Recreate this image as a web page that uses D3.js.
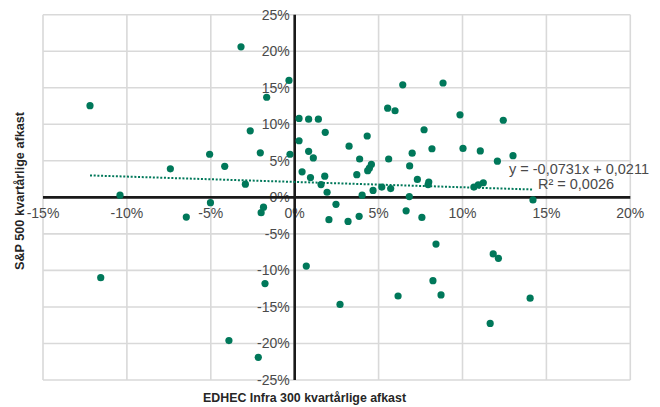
<!DOCTYPE html>
<html>
<head>
<meta charset="utf-8">
<script src="https://cdn.jsdelivr.net/npm/d3@7/dist/d3.min.js"></script>
<style>
  html, body { margin: 0; padding: 0; background: #fff; }
  svg { display: block; }
</style>
</head>
<body>
<div id="chart"></div>
<script>
// Quarterly returns (%): EDHEC Infra 300 (x) vs S&P 500 (y)
const infraReturns = [
  -12.2, -3.2, -0.34, -1.67, -2.65, 0.26, 0.83, 1.41, 1.82, 0.26,
  0.83, 1.11, -0.28, -2.05, -5.07, -4.17, -7.41, 0.44, 0.94, 1.79,
  1.57, -2.94, 1.93, -10.41, -5.02, -1.86, -2.0, -6.46, 2.04, -11.56,
  0.69, -1.77, -3.92, -2.17, 6.44, 8.84, 5.54, 5.98, 9.85, 12.43,
  7.71, 4.32, 3.24, 10.03, 8.18, 11.06, 7.0, 12.08, 13.01, 3.87,
  5.6, 6.85, 4.57, 4.45, 4.35, 3.7, 7.31, 7.99, 7.95, 11.24,
  10.94, 10.68, 5.19, 5.72, 4.67, 4.02, 6.83, 14.2, 2.46, 3.18,
  3.84, 6.64, 7.58, 8.42, 11.83, 12.14, 8.24, 6.16, 8.72, 14.03,
  2.7, 11.65
];
const spReturns = [
  12.55, 20.6, 16.0, 13.7, 9.1, 10.8, 10.7, 10.7, 8.9, 7.75,
  6.3, 5.4, 5.9, 6.1, 5.9, 4.25, 3.9, 3.5, 2.7, 2.9,
  1.75, 1.8, 0.7, 0.3, -0.73, -1.35, -2.1, -2.7, -3.05, -11.0,
  -9.4, -11.8, -19.6, -21.9, 15.4, 15.65, 12.2, 11.85, 11.3, 10.55,
  9.25, 8.4, 7.0, 6.7, 6.65, 6.35, 6.05, 4.95, 5.7, 5.25,
  5.25, 4.3, 4.5, 4.0, 3.65, 3.1, 2.45, 2.1, 1.75, 2.0,
  1.7, 1.4, 1.4, 1.2, 0.95, 0.3, 0.1, -0.35, -0.95, -3.3,
  -2.6, -1.85, -2.75, -6.4, -7.75, -8.35, -11.4, -13.5, -13.35, -13.8,
  -14.65, -17.25
];

// Linear trend (as printed on the chart)
const trendSlope = -0.0731;
const trendIntercept = 0.0211;
const trendLabel = "y = -0,0731x + 0,0211";
const r2Label = "R² = 0,0026";

const xTicks = [-15, -10, -5, 0, 5, 10, 15, 20];
const yTicks = [-25, -20, -15, -10, -5, 0, 5, 10, 15, 20, 25];
const xTitle = "EDHEC Infra 300 kvartårlige afkast";
const yTitle = "S&P 500 kvartårlige afkast";

const width = 660, height = 407;
const plot = { left: 43, right: 630.3, top: 14.7, bottom: 380 };
const green = "#00785a";
const grid = "#d9d9d9";
const textCol = "#4a4a4a";

const svg = d3.select("#chart").append("svg")
  .attr("width", width).attr("height", height);

const x = d3.scaleLinear().domain([-15, 20]).range([plot.left, plot.right]);
const y = d3.scaleLinear().domain([-25, 25]).range([plot.bottom, plot.top]);

// Gridlines (also form the outer frame)
svg.append("g").selectAll("line").data(xTicks).join("line")
  .attr("x1", d => x(d)).attr("x2", d => x(d))
  .attr("y1", plot.top).attr("y2", plot.bottom)
  .attr("stroke", grid).attr("stroke-width", 1.6);
svg.append("g").selectAll("line").data(yTicks).join("line")
  .attr("x1", plot.left).attr("x2", plot.right)
  .attr("y1", d => y(d)).attr("y2", d => y(d))
  .attr("stroke", grid).attr("stroke-width", 1.6);

const fmt = d => d + "%";

// Y tick labels sit just left of the vertical zero axis
svg.append("g").selectAll("text").data(yTicks).join("text")
  .attr("x", x(0) - 5).attr("y", d => y(d)).attr("dy", "0.35em")
  .attr("text-anchor", "end")
  .attr("font-family", "Liberation Sans, Arial, sans-serif")
  .attr("font-size", 14).attr("fill", textCol)
  .text(fmt);

// X tick labels sit just below the horizontal zero axis
svg.append("g").selectAll("text").data(xTicks).join("text")
  .attr("x", d => x(d)).attr("y", y(0) + 21)
  .attr("text-anchor", "middle")
  .attr("font-family", "Liberation Sans, Arial, sans-serif")
  .attr("font-size", 14).attr("fill", textCol)
  .text(fmt);

// Zero axes
svg.append("line")
  .attr("x1", plot.left).attr("x2", plot.right)
  .attr("y1", y(0)).attr("y2", y(0))
  .attr("stroke", "#1a1a1a").attr("stroke-width", 2.6);
svg.append("line")
  .attr("x1", x(0)).attr("x2", x(0))
  .attr("y1", plot.top).attr("y2", plot.bottom)
  .attr("stroke", "#1a1a1a").attr("stroke-width", 2.6);

// Dotted trend line across the data range
const xMin = d3.min(infraReturns), xMax = d3.max(infraReturns);
const trendY = v => (trendSlope * v / 100 + trendIntercept) * 100;
svg.append("line")
  .attr("x1", x(xMin)).attr("y1", y(trendY(xMin)))
  .attr("x2", x(xMax)).attr("y2", y(trendY(xMax)))
  .attr("stroke", green).attr("stroke-width", 2)
  .attr("stroke-dasharray", "2,1.7");

// Points
const points = infraReturns.map((v, i) => ({ x: v, y: spReturns[i] }));
svg.append("g").selectAll("circle").data(points).join("circle")
  .attr("cx", d => x(d.x)).attr("cy", d => y(d.y))
  .attr("r", 3.6).attr("fill", green);

// Trend equation
const eq = svg.append("g")
  .attr("font-family", "Liberation Sans, Arial, sans-serif")
  .attr("font-size", 14.5).attr("fill", textCol)
  .attr("text-anchor", "middle");
eq.append("text").attr("x", 579).attr("y", 174).text(trendLabel);
eq.append("text").attr("x", 576).attr("y", 188.5).text(r2Label);

// Axis titles
svg.append("text")
  .attr("x", 304.5).attr("y", 402)
  .attr("text-anchor", "middle")
  .attr("font-family", "Liberation Sans, Arial, sans-serif")
  .attr("font-weight", "bold").attr("font-size", 13).attr("fill", "#262626")
  .attr("textLength", 203).attr("lengthAdjust", "spacingAndGlyphs")
  .text(xTitle);
svg.append("text")
  .attr("transform", "translate(24,191) rotate(-90)")
  .attr("text-anchor", "middle")
  .attr("font-family", "Liberation Sans, Arial, sans-serif")
  .attr("font-weight", "bold").attr("font-size", 13).attr("fill", "#262626")
  .attr("textLength", 158).attr("lengthAdjust", "spacingAndGlyphs")
  .text(yTitle);
</script>
</body>
</html>
